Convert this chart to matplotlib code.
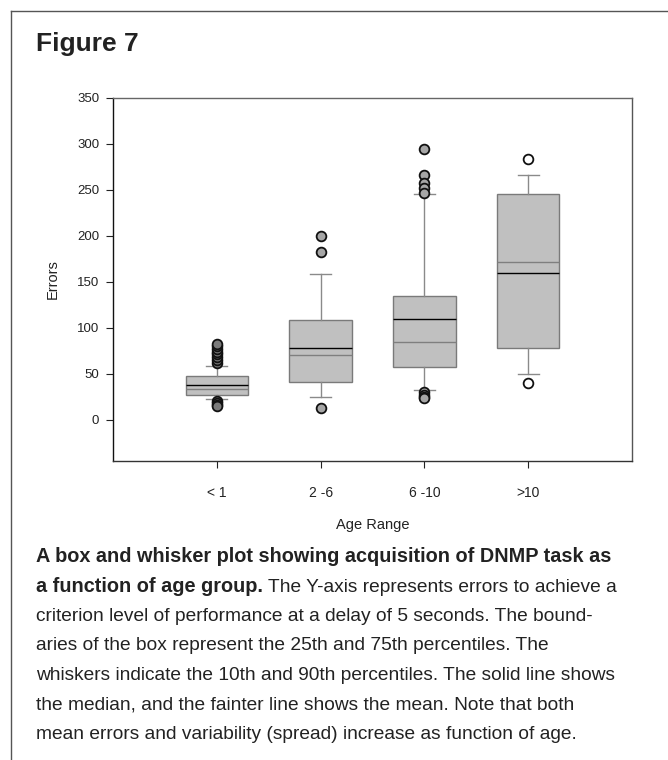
import matplotlib
matplotlib.use("Agg")
import matplotlib.pyplot as plt
from matplotlib.lines import Line2D

plt.rcParams['font.family'] = ['Liberation Sans', 'DejaVu Sans']

# errors to criterion by age group
groups = ["< 1", "2 -6", "6 -10", ">10"]
q1 = [27, 41, 57, 78.5]
q3 = [47, 108.5, 134.5, 245]
medians = [38, 78.5, 110, 160]
means = [33.5, 70, 84, 172]
p10 = [22, 24.5, 32.5, 49.5]
p90 = [58, 158, 245, 266]
outliers = [
    [62, 65, 68, 71, 74, 77, 80, 82, 20, 18, 16, 15],
    [200, 182, 12.5],
    [295, 266, 258, 252, 247, 30, 27, 25, 24],
    [284, 40],
]
flier_fill = ["#7a7a7a", "#a6a6a6", "#a6a6a6", "white"]

caption_bold = "A box and whisker plot showing acquisition of DNMP task as"
caption_bold2 = "a function of age group."
caption_rest2 = " The Y-axis represents errors to achieve a"
caption_lines = [
    "criterion level of performance at a delay of 5 seconds. The bound-",
    "aries of the box represent the 25th and 75th percentiles. The",
    "whiskers indicate the 10th and 90th percentiles. The solid line shows",
    "the median, and the fainter line shows the mean. Note that both",
    "mean errors and variability (spread) increase as function of age.",
]

W, H = 668, 760
fig = plt.figure(figsize=(W / 100, H / 100), dpi=100)

ax = fig.add_axes([113 / W, 1 - 461 / H, (632 - 113) / W, (461 - 98) / H])

stats = []
for i in range(len(groups)):
    stats.append(dict(med=medians[i], q1=q1[i], q3=q3[i], mean=means[i],
                      whislo=p10[i], whishi=p90[i], fliers=[]))

positions = list(range(1, len(groups) + 1))
ax.bxp(stats, positions=positions, widths=0.6, patch_artist=True,
       showmeans=True, meanline=True, showfliers=False,
       boxprops=dict(facecolor="#c0c0c0", edgecolor="#7a7a7a", linewidth=1.0),
       medianprops=dict(color="black", linewidth=1.0),
       meanprops=dict(color="#7f7f7f", linewidth=1.0, linestyle="-"),
       whiskerprops=dict(color="#8a8a8a", linewidth=1.0),
       capprops=dict(color="#8a8a8a", linewidth=1.0),
       capwidths=0.2)

for pos, pts, fc in zip(positions, outliers, flier_fill):
    ax.plot([pos] * len(pts), pts, linestyle="none", marker="o", markersize=7,
            markerfacecolor=fc, markeredgecolor="#111111", markeredgewidth=1.3,
            zorder=4)

ax.set_xlim(0, 5)
ax.set_ylim(-45, 350)
ax.set_yticks(range(0, 351, 50))
ax.set_xticks(positions)
ax.set_xticklabels(groups)
ax.tick_params(axis="both", direction="out", length=5, width=0.8,
               labelsize=9.5, colors="#222222", pad=5)
ax.tick_params(axis="x", labelsize=10, pad=13)
ax.set_xlabel("Age Range", fontsize=10.5, labelpad=13, color="#222222")
ax.set_ylabel("Errors", fontsize=10.5, labelpad=12, color="#222222")

ax.spines["left"].set_color("#111111")
ax.spines["bottom"].set_color("#333333")
ax.spines["top"].set_color("#666666")
ax.spines["right"].set_color("#555555")
for s in ax.spines.values():
    s.set_linewidth(1.0)

# outer panel rule: top and left edges only
fig.add_artist(Line2D([11 / W, 1.0], [1 - 11 / H, 1 - 11 / H],
                      transform=fig.transFigure, color="#555555", linewidth=1.0))
fig.add_artist(Line2D([11 / W, 11 / W], [1 - 11 / H, 0.0],
                      transform=fig.transFigure, color="#555555", linewidth=1.0))

fig.text(36 / W, 1 - 51 / H, "Figure 7", fontsize=19, fontweight="bold",
         color="#222222", va="baseline")

x0 = 36 / W
base = 562
step = 29.5
cap_size = 13.8
bold_size = 14.3
fig.text(x0, 1 - base / H, caption_bold, fontsize=bold_size, fontweight="bold",
         color="#222222", va="baseline")
t = fig.text(x0, 1 - (base + step) / H, caption_bold2, fontsize=bold_size,
             fontweight="bold", color="#222222", va="baseline")
fig.canvas.draw()
bb = t.get_window_extent(renderer=fig.canvas.get_renderer())
fig.text(bb.x1 / W, 1 - (base + step) / H, caption_rest2, fontsize=cap_size,
         color="#222222", va="baseline")
for k, line in enumerate(caption_lines):
    fig.text(x0, 1 - (base + step * (k + 2)) / H, line, fontsize=cap_size,
             color="#222222", va="baseline")

fig.savefig("out.png", dpi=100)
